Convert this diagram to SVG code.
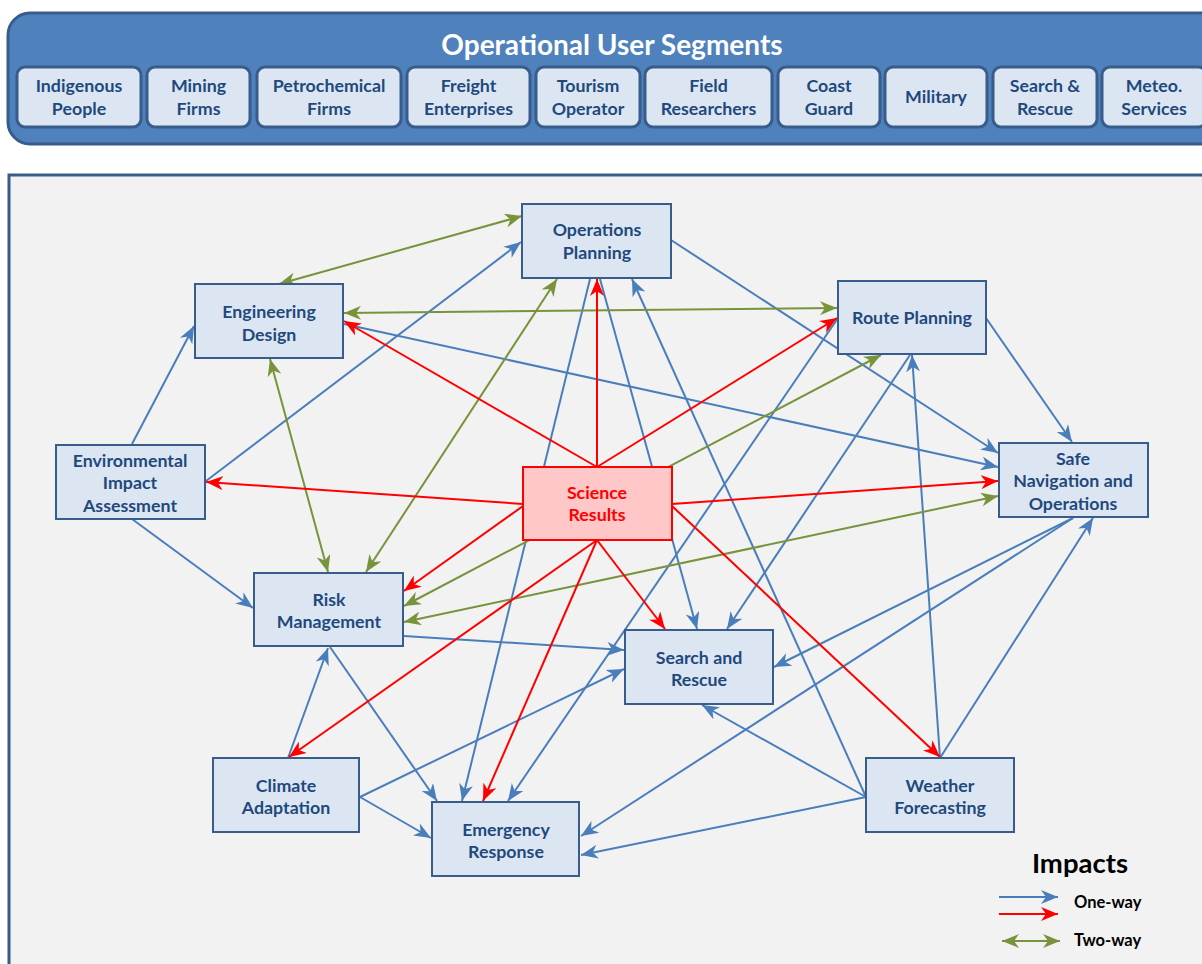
<svg xmlns="http://www.w3.org/2000/svg" width="1202" height="964" viewBox="0 0 1202 964">
  <style>
    .seg rect { fill: #dce6f2; stroke: #385d8a; stroke-width: 3; }
    .seg text, .node text { font-family: Lato, "Liberation Sans", sans-serif; font-weight: bold; font-size: 17.8px; fill: #1f497d; text-anchor: middle; }
    .node rect { fill: #dce6f2; stroke: #385d8a; stroke-width: 2; }
    #n-science rect { fill: #ffc7c7; stroke: #ff0000; }
    #n-science text { fill: #ff0000; }
    .b { stroke: #4a7ebb; stroke-width: 2; fill: none; marker-end: url(#ab); }
    .r { stroke: #ff0000; stroke-width: 2; fill: none; marker-end: url(#ar); }
    .g { stroke: #77933c; stroke-width: 2; fill: none; marker-end: url(#ag); marker-start: url(#ag); }
    .title { font-family: Lato, "Liberation Sans", sans-serif; font-weight: bold; font-size: 28px; fill: #ffffff; text-anchor: middle; }
    .legend { font-family: Lato, "Liberation Sans", sans-serif; font-weight: bold; fill: #000000; }
  </style>
  <defs>
    <marker id="ab" viewBox="0 0 17 14" refX="17" refY="7" markerWidth="17" markerHeight="14" markerUnits="userSpaceOnUse" orient="auto-start-reverse">
      <path d="M0,0 L17,7 L0,14 L5,7 Z" fill="#4a7ebb"/>
    </marker>
    <marker id="ar" viewBox="0 0 17 14" refX="17" refY="7" markerWidth="17" markerHeight="14" markerUnits="userSpaceOnUse" orient="auto-start-reverse">
      <path d="M0,0 L17,7 L0,14 L5,7 Z" fill="#ff0000"/>
    </marker>
    <marker id="ag" viewBox="0 0 17 14" refX="17" refY="7" markerWidth="17" markerHeight="14" markerUnits="userSpaceOnUse" orient="auto-start-reverse">
      <path d="M0,0 L17,7 L0,14 L5,7 Z" fill="#77933c"/>
    </marker>
  </defs>

  <rect x="0" y="0" width="1202" height="964" fill="#ffffff"/>

  <!-- user segment banner -->
  <g id="banner">
    <rect x="8" y="13" width="1214" height="131" rx="22" fill="#4f81bd" stroke="#385d8a" stroke-width="3"/>
    <text class="title" x="612" y="55">Operational User Segments</text>
  </g>
  <g id="seg-indigenous" class="seg"><rect x="17" y="67" width="124" height="60" rx="8"/><text x="79" y="92">Indigenous</text><text x="79" y="115">People</text></g>
  <g id="seg-mining" class="seg"><rect x="147" y="67" width="103" height="60" rx="8"/><text x="198.5" y="92">Mining</text><text x="198.5" y="115">Firms</text></g>
  <g id="seg-petro" class="seg"><rect x="257" y="67" width="144" height="60" rx="8"/><text x="329" y="92">Petrochemical</text><text x="329" y="115">Firms</text></g>
  <g id="seg-freight" class="seg"><rect x="407" y="67" width="123" height="60" rx="8"/><text x="468.5" y="92">Freight</text><text x="468.5" y="115">Enterprises</text></g>
  <g id="seg-tourism" class="seg"><rect x="536" y="67" width="104" height="60" rx="8"/><text x="588" y="92">Tourism</text><text x="588" y="115">Operator</text></g>
  <g id="seg-field" class="seg"><rect x="645" y="67" width="127" height="60" rx="8"/><text x="708.5" y="92">Field</text><text x="708.5" y="115">Researchers</text></g>
  <g id="seg-coast" class="seg"><rect x="778" y="67" width="102" height="60" rx="8"/><text x="829" y="92">Coast</text><text x="829" y="115">Guard</text></g>
  <g id="seg-military" class="seg"><rect x="885" y="67" width="102" height="60" rx="8"/><text x="936" y="103">Military</text></g>
  <g id="seg-sar" class="seg"><rect x="993" y="67" width="104" height="60" rx="8"/><text x="1045" y="92">Search &amp;</text><text x="1045" y="115">Rescue</text></g>
  <g id="seg-meteo" class="seg"><rect x="1102" y="67" width="104" height="60" rx="8"/><text x="1154" y="92">Meteo.</text><text x="1154" y="115">Services</text></g>

  <!-- impacts panel -->
  <rect id="panel" x="9" y="175" width="1214" height="800" fill="#f2f2f2" stroke="#385d8a" stroke-width="3"/>

  <g id="connectors">
    <!-- one-way blue impacts -->
    <line class="b" x1="132" y1="444" x2="194" y2="326"/>
    <line class="b" x1="206" y1="481" x2="521" y2="242"/>
    <line class="b" x1="132" y1="519" x2="253" y2="608"/>
    <line class="b" x1="344" y1="324" x2="998" y2="467"/>
    <line class="b" x1="671" y1="240" x2="998" y2="453"/>
    <line class="b" x1="986" y1="318" x2="1072" y2="442"/>
    <line class="b" x1="940" y1="758" x2="912" y2="355"/>
    <line class="b" x1="940" y1="758" x2="1093" y2="518"/>
    <line class="b" x1="866" y1="797" x2="632" y2="279"/>
    <line class="b" x1="866" y1="797" x2="702" y2="705"/>
    <line class="b" x1="866" y1="797" x2="581" y2="855"/>
    <line class="b" x1="1073" y1="518" x2="774" y2="667"/>
    <line class="b" x1="1073" y1="518" x2="581" y2="836"/>
    <line class="b" x1="910" y1="355" x2="727" y2="629"/>
    <line class="b" x1="838" y1="318" x2="508" y2="801"/>
    <line class="b" x1="590" y1="279" x2="462" y2="801"/>
    <line class="b" x1="600" y1="279" x2="697" y2="629"/>
    <line class="b" x1="404" y1="636" x2="624" y2="650"/>
    <line class="b" x1="330" y1="647" x2="437" y2="801"/>
    <line class="b" x1="288" y1="758" x2="328" y2="648"/>
    <line class="b" x1="360" y1="797" x2="624" y2="669"/>
    <line class="b" x1="360" y1="797" x2="431" y2="838"/>
    <!-- two-way green impacts -->
    <line class="g" x1="522" y1="216" x2="279" y2="284"/>
    <line class="g" x1="344" y1="313" x2="837" y2="308"/>
    <line class="g" x1="270" y1="359" x2="328" y2="572"/>
    <line class="g" x1="557" y1="279" x2="366" y2="572"/>
    <line class="g" x1="881" y1="355" x2="404" y2="606"/>
    <line class="g" x1="998" y1="496" x2="404" y2="622"/>
    <!-- science results, red -->
    <line class="r" x1="597" y1="467" x2="597" y2="279"/>
    <line class="r" x1="597" y1="467" x2="344" y2="321"/>
    <line class="r" x1="597" y1="467" x2="837" y2="318"/>
    <line class="r" x1="523" y1="504" x2="206" y2="482"/>
    <line class="r" x1="672" y1="504" x2="998" y2="481"/>
    <line class="r" x1="523" y1="506" x2="404" y2="591"/>
    <line class="r" x1="597" y1="540" x2="665" y2="629"/>
    <line class="r" x1="597" y1="540" x2="289" y2="757"/>
    <line class="r" x1="597" y1="540" x2="483" y2="801"/>
    <line class="r" x1="672" y1="506" x2="940" y2="757"/>
  </g>

  <g id="n-ops" class="node"><rect x="522" y="204" width="149" height="74"/><text x="597" y="236">Operations</text><text x="597" y="259">Planning</text></g>
  <g id="n-eng" class="node"><rect x="195" y="284" width="148" height="74"/><text x="269" y="318">Engineering</text><text x="269" y="341">Design</text></g>
  <g id="n-route" class="node"><rect x="838" y="281" width="148" height="73"/><text x="912" y="324">Route Planning</text></g>
  <g id="n-eia" class="node"><rect x="56" y="445" width="149" height="74"/><text x="130" y="467">Environmental</text><text x="130" y="489">Impact</text><text x="130" y="512">Assessment</text></g>
  <g id="n-science" class="node"><rect x="523" y="467" width="149" height="73"/><text x="597" y="499">Science</text><text x="597" y="521">Results</text></g>
  <g id="n-safenav" class="node"><rect x="999" y="443" width="149" height="74"/><text x="1073" y="465">Safe</text><text x="1073" y="487">Navigation and</text><text x="1073" y="510">Operations</text></g>
  <g id="n-risk" class="node"><rect x="254" y="573" width="149" height="73"/><text x="329" y="606">Risk</text><text x="329" y="628">Management</text></g>
  <g id="n-sar" class="node"><rect x="625" y="630" width="148" height="74"/><text x="699" y="664">Search and</text><text x="699" y="686">Rescue</text></g>
  <g id="n-climate" class="node"><rect x="213" y="758" width="146" height="74"/><text x="286" y="792">Climate</text><text x="286" y="814">Adaptation</text></g>
  <g id="n-emerg" class="node"><rect x="432" y="802" width="147" height="74"/><text x="506" y="836">Emergency</text><text x="506" y="858">Response</text></g>
  <g id="n-weather" class="node"><rect x="866" y="758" width="148" height="74"/><text x="940" y="792">Weather</text><text x="940" y="814">Forecasting</text></g>

  <g id="legend">
    <text class="legend" x="1080" y="873" font-size="27.5" text-anchor="middle">Impacts</text>
    <line class="b" x1="999" y1="897" x2="1058" y2="897"/>
    <line class="r" x1="999" y1="914" x2="1058" y2="914"/>
    <line class="g" x1="1002" y1="941" x2="1060" y2="941"/>
    <text class="legend" x="1074" y="908" font-size="16.5">One-way</text>
    <text class="legend" x="1074" y="946" font-size="16.5">Two-way</text>
  </g>
</svg>
